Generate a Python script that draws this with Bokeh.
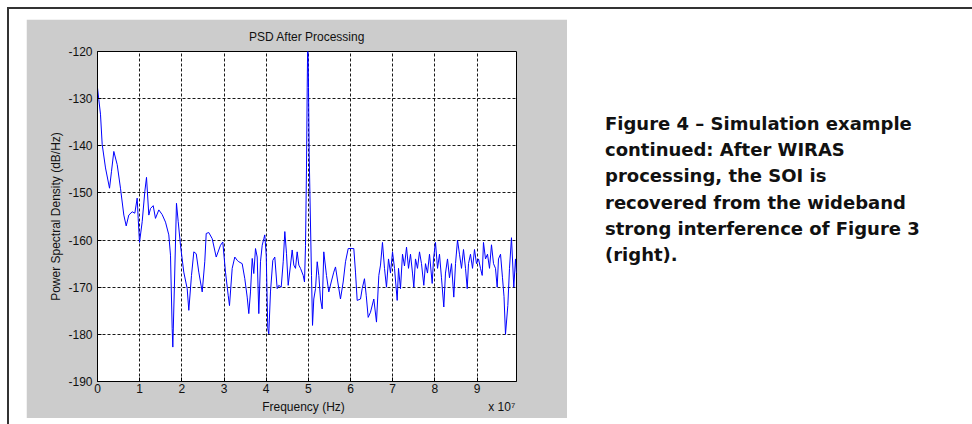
from bokeh.plotting import figure
from bokeh.models import FixedTicker, Range1d, Div
from bokeh.layouts import row, column
from bokeh.embed import file_html
from bokeh.resources import INLINE

# ---- data (frequency in units of 1e7 Hz, PSD in dB/Hz) ----
freq_e7 = [
    0.000, 0.031, 0.071, 0.111, 0.190, 0.285, 0.332, 0.387, 0.467, 0.545,
    0.624, 0.681, 0.742, 0.823, 0.885, 0.941, 0.965, 0.996, 1.060, 1.122,
    1.162, 1.217, 1.257, 1.321, 1.375, 1.454, 1.534, 1.613, 1.691, 1.731,
    1.771, 1.786, 1.826, 1.873, 1.914, 1.968, 2.046, 2.127, 2.165, 2.229,
    2.284, 2.341, 2.402, 2.483, 2.544, 2.578, 2.639, 2.720, 2.815, 2.917,
    2.971, 3.035, 3.099, 3.130, 3.194, 3.256, 3.313, 3.351, 3.431, 3.493,
    3.550, 3.588, 3.628, 3.669, 3.706, 3.747, 3.787, 3.825, 3.865, 3.906,
    3.944, 3.967, 4.001, 4.038, 4.062, 4.102, 4.157, 4.204, 4.261, 4.299,
    4.356, 4.404, 4.442, 4.482, 4.522, 4.577, 4.617, 4.655, 4.695, 4.735,
    4.774, 4.814, 4.878, 4.909, 4.933, 4.956, 4.973, 4.987, 5.004, 5.020,
    5.051, 5.075, 5.099, 5.129, 5.170, 5.210, 5.248, 5.288, 5.328, 5.366,
    5.430, 5.485, 5.542, 5.603, 5.644, 5.698, 5.762, 5.826, 5.881, 5.945,
    6.078, 6.118, 6.158, 6.237, 6.277, 6.331, 6.372, 6.419, 6.474, 6.552,
    6.616, 6.671, 6.711, 6.758, 6.806, 6.853, 6.901, 6.948, 6.996, 7.043,
    7.107, 7.138, 7.185, 7.233, 7.280, 7.328, 7.375, 7.422, 7.470, 7.501,
    7.541, 7.588, 7.636, 7.683, 7.738, 7.778, 7.825, 7.873, 7.937, 7.968,
    8.015, 8.063, 8.110, 8.157, 8.212, 8.252, 8.300, 8.347, 8.395, 8.449,
    8.490, 8.537, 8.584, 8.632, 8.679, 8.727, 8.767, 8.798, 8.845, 8.893,
    8.940, 8.987, 9.035, 9.082, 9.123, 9.153, 9.201, 9.248, 9.296, 9.343,
    9.391, 9.438, 9.478, 9.509, 9.557, 9.604, 9.640, 9.675, 9.730, 9.770,
    9.817, 9.872, 9.912, 9.936,
]
psd_db = [
    -127.7, -130.2, -133.3, -139.7, -144.7, -149.0, -145.4, -141.2, -144.0, -149.0,
    -154.7, -157.0, -154.7, -154.0, -154.3, -151.1, -155.4, -160.5, -156.1, -149.7,
    -146.7, -154.7, -153.3, -152.7, -155.4, -153.6, -154.6, -156.2, -158.9, -163.2,
    -178.8, -182.7, -168.9, -152.2, -156.1, -161.1, -166.8, -170.3, -174.9, -167.5,
    -162.5, -162.9, -166.8, -171.0, -164.6, -158.6, -158.4, -159.7, -163.6, -161.1,
    -160.4, -166.8, -171.7, -173.9, -166.0, -163.6, -164.3, -164.6, -165.0, -168.2,
    -172.1, -175.6, -171.0, -163.9, -167.1, -161.8, -163.6, -175.6, -164.6, -161.1,
    -159.7, -158.9, -163.2, -178.8, -179.9, -171.0, -164.3, -163.6, -170.3, -169.6,
    -170.0, -164.6, -158.2, -162.9, -169.6, -165.3, -162.1, -165.3, -166.0, -162.5,
    -165.3, -166.0, -167.5, -168.9, -161.1, -144.7, -127.7, -116.0, -127.7, -141.9,
    -156.8, -167.5, -178.1, -172.5, -170.3, -164.6, -167.5, -172.5, -174.6, -162.5,
    -167.5, -171.0, -168.9, -166.8, -165.7, -168.9, -172.5, -168.9, -164.6, -161.8,
    -161.8, -166.8, -172.8, -172.5, -170.3, -168.2, -171.7, -176.4, -175.3, -172.5,
    -177.4, -167.5, -165.3, -160.5, -166.0, -170.0, -164.0, -167.0, -162.5, -166.0,
    -172.8, -166.0, -170.3, -163.0, -165.5, -161.5, -166.0, -163.0, -167.0, -170.0,
    -164.0, -166.0, -162.5, -165.0, -169.6, -165.0, -167.0, -163.0, -169.2, -164.0,
    -160.5, -166.0, -163.0, -168.0, -174.2, -167.0, -164.0, -168.0, -165.0, -172.1,
    -165.0, -160.0, -163.0, -166.0, -162.0, -166.0, -170.3, -165.0, -163.0, -166.0,
    -162.0, -165.0, -164.0, -166.0, -167.5, -160.5, -164.0, -163.0, -166.0, -161.0,
    -165.0, -166.0, -170.0, -164.0, -163.0, -168.0, -172.0, -180.0, -173.9, -166.0,
    -159.5, -170.0, -164.0, -167.0,
]
x_ticks = [0, 1, 2, 3, 4, 5, 6, 7, 8, 9]
y_ticks = [-190, -180, -170, -160, -150, -140, -130, -120]
x_end = 9.936
title_text = "PSD After Processing"
x_label = "Frequency (Hz)"
x_multiplier = "x 10\u2077"
y_label = "Power Spectral Density (dB/Hz)"
caption_lines = [
    "Figure 4 \u2013 Simulation example",
    "continued: After WIRAS",
    "processing, the SOI is",
    "recovered from the wideband",
    "strong interference of Figure 3",
    "(right).",
]

FONT = "Liberation Sans"
GRAY = "#cccccc"
NB = "\u00a0"

p = figure(width=541, height=399,
           min_border_left=71, min_border_right=51,
           min_border_top=32, min_border_bottom=37,
           x_range=Range1d(0, x_end), y_range=Range1d(-190, -120),
           output_backend="svg", toolbar_location=None,
           margin=(10, 0, 0, 17))
p.background_fill_color = "white"
p.border_fill_color = GRAY
p.outline_line_color = "black"
p.outline_line_width = 1

p.title.text = title_text
p.title.align = "center"
p.title.offset = -5
p.title.text_font = FONT
p.title.text_font_size = "12px"
p.title.text_font_style = "normal"
p.title.text_color = "#111111"
p.title.standoff = 16

for ax, ticks in ((p.xaxis[0], x_ticks), (p.yaxis[0], y_ticks)):
    ax.ticker = FixedTicker(ticks=ticks, minor_ticks=[])
    ax.major_label_overrides = {t: str(t) for t in ticks}
    ax.major_tick_in = 4
    ax.major_tick_out = 0
    ax.minor_tick_line_color = None
    ax.axis_line_color = "black"
    ax.major_tick_line_color = "black"
    ax.major_label_text_font = FONT
    ax.major_label_text_font_size = "12px"
    ax.major_label_text_color = "#111111"
    ax.axis_label_text_font = FONT
    ax.axis_label_text_font_size = "12px"
    ax.axis_label_text_font_style = "normal"
    ax.axis_label_text_color = "#111111"

p.xaxis.major_label_standoff = 2
p.yaxis.major_label_standoff = 5
p.yaxis.axis_label = y_label
p.yaxis.axis_label_standoff = 2
# axis label: centred "Frequency (Hz)" with the MATLAB-style exponent at the right end
p.xaxis.axis_label = NB * 49 + x_label + NB * 43 + x_multiplier
p.xaxis.axis_label_standoff = 4

p.grid.grid_line_color = "black"
p.grid.grid_line_dash = "3 2"
p.grid.grid_line_width = 1
p.grid.grid_line_alpha = 0.9

p.line(freq_e7, psd_db, line_color="#0000ff", line_width=1)

top_line = Div(text="", width=965, height=2, margin=(7, 0, 0, 7),
               styles={"background-color": "#333333"})
left_line = Div(text="", width=2, height=415, margin=(0, 0, 0, 7),
                styles={"background-color": "#333333"})
cap_html = ("<div style=\"font-family:'DejaVu Sans';font-weight:bold;font-size:18px;"
            "line-height:26.2px;color:#111111;white-space:nowrap;\">"
            + "<br>".join(caption_lines) + "</div>")
cap = Div(text=cap_html, width=360, height=170, margin=(102, 0, 0, 38))

root = column(top_line, row(left_line, p, cap, spacing=0), spacing=0)

open("out.html", "w").write(file_html(root, INLINE))
